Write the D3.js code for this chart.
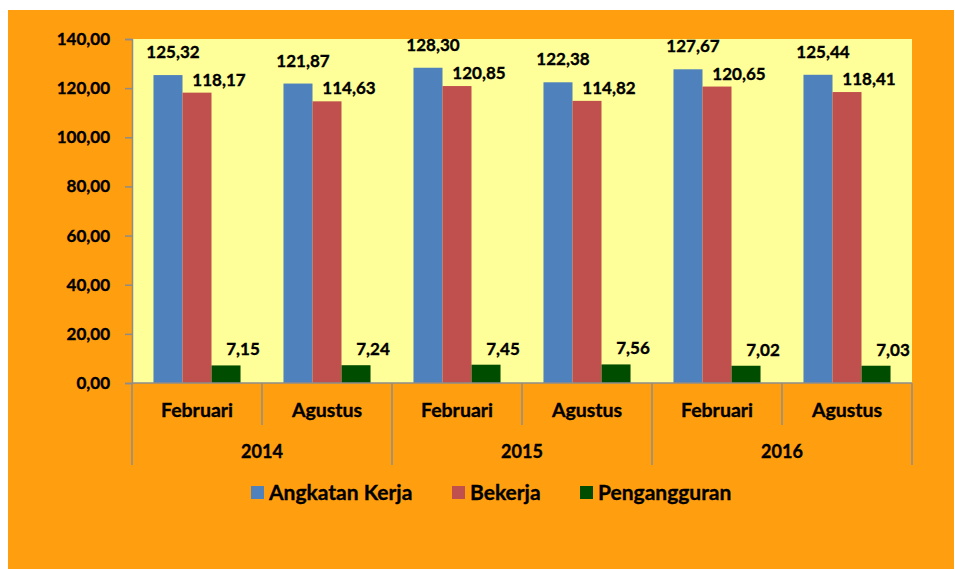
<!DOCTYPE html>
<html>
<head>
<meta charset="utf-8">
<script src="https://cdn.jsdelivr.net/npm/d3@7"></script>
<style>
body { margin: 0; background: #fff; }
text { font-family: Lato, "Open Sans", sans-serif; font-weight: bold; fill: #000; stroke: #000; stroke-width: 0.35px; }
</style>
</head>
<body>
<script>
var g_width = 955
var g_height = 569

// data
var years = ["2014", "2015", "2016"]
var months = ["Februari", "Agustus"]
var seriesNames = ["Angkatan Kerja", "Bekerja", "Pengangguran"]
var angkatanKerja = [125.32, 121.87, 128.30, 122.38, 127.67, 125.44]
var bekerja = [118.17, 114.63, 120.85, 114.82, 120.65, 118.41]
var pengangguran = [7.15, 7.24, 7.45, 7.56, 7.02, 7.03]
var yTicks = [0, 20, 40, 60, 80, 100, 120, 140]

var colors = ["#4f81bd", "#c0504d", "#004d00"]
var allSeries = [angkatanKerja, bekerja, pengangguran]
// label nudges, roughly how excel placed them
var labelDx = [5, 22, 17]
var labelDy = [-17, -7, -10]

var categories = []
years.forEach(function(y) {
    months.forEach(function(m) { categories.push(y + "|" + m) })
})

var plot = { left: 132, right: 912, top: 39, bottom: 383 }

var svg = d3.select("body").append("svg")
    .attr("width", g_width)
    .attr("height", g_height)

svg.append("rect")
    .attr("x", 8).attr("y", 10)
    .attr("width", 946).attr("height", 559)
    .attr("fill", "#ff9e0f")

svg.append("rect")
    .attr("x", plot.left).attr("y", plot.top)
    .attr("width", plot.right - plot.left).attr("height", plot.bottom - plot.top)
    .attr("fill", "#ffff99")

var xScale = d3.scaleBand().domain(categories).range([plot.left, plot.right]).paddingInner(0).paddingOuter(0)
var inner = d3.scaleBand().domain([0, 1, 2]).range([0, xScale.bandwidth()]).paddingOuter(0.74).paddingInner(0)
var yScale = d3.scaleLinear().domain([0, 140]).range([plot.bottom, plot.top])

// y axis
var yAxis = d3.axisLeft(yScale)
    .tickValues(yTicks)
    .tickSize(7)
    .tickFormat(function(d) { return d3.format(".2f")(d).replace(".", ",") })

var yAxisPlot = svg.append("g")
    .attr("transform", "translate(" + plot.left + ",0)")
    .call(yAxis)
yAxisPlot.select(".domain").attr("stroke", "#8c8c8c").attr("stroke-width", 1.5)
yAxisPlot.selectAll(".tick line").attr("stroke", "#8c8c8c").attr("stroke-width", 1.5)
yAxisPlot.selectAll(".tick text")
    .attr("x", -22)
    .style("font-size", "17px")
    .style("font-family", "Lato, sans-serif")
    .style("font-weight", "bold")
    .attr("fill", "#000")

// bars
allSeries.forEach(function(values, s) {
    svg.append("g").selectAll("rect")
        .data(values)
        .enter().append("rect")
        .attr("x", function(d, i) { return xScale(categories[i]) + inner(s) })
        .attr("y", function(d) { return yScale(d) })
        .attr("width", inner.bandwidth())
        .attr("height", function(d) { return yScale(0) - yScale(d) })
        .attr("fill", colors[s])

    svg.append("g").selectAll("text")
        .data(values)
        .enter().append("text")
        .attr("x", function(d, i) { return xScale(categories[i]) + inner(s) + inner.bandwidth() / 2 + labelDx[s] })
        .attr("y", function(d) { return yScale(d) + labelDy[s] })
        .attr("text-anchor", "middle")
        .style("font-size", "17px")
        .text(function(d) { return d3.format(".2f")(d).replace(".", ",") })
})

// x axis line
svg.append("line")
    .attr("x1", plot.left).attr("x2", plot.right)
    .attr("y1", plot.bottom).attr("y2", plot.bottom)
    .attr("stroke", "#8c8c8c").attr("stroke-width", 1.5)

// month separators and labels
categories.forEach(function(c, i) {
    var x0 = xScale(c)
    var isYearEdge = i % 2 == 0
    svg.append("line")
        .attr("x1", x0).attr("x2", x0)
        .attr("y1", plot.bottom).attr("y2", isYearEdge ? 465 : 425)
        .attr("stroke", "#8c8c8c").attr("stroke-width", 1.5)
    svg.append("text")
        .attr("x", x0 + xScale.bandwidth() / 2)
        .attr("y", 417)
        .attr("text-anchor", "middle")
        .style("font-size", "19.5px")
        .text(c.split("|")[1])
})
svg.append("line")
    .attr("x1", plot.right).attr("x2", plot.right)
    .attr("y1", plot.bottom).attr("y2", 465)
    .attr("stroke", "#8c8c8c").attr("stroke-width", 1.5)

// year labels
years.forEach(function(y) {
    var x0 = xScale(y + "|" + months[0])
    svg.append("text")
        .attr("x", x0 + xScale.bandwidth())
        .attr("y", 458)
        .attr("text-anchor", "middle")
        .style("font-size", "18px")
        .text(y)
})

// legend
var legendX = [251, 452, 580]
var legend = svg.append("g")
seriesNames.forEach(function(name, s) {
    legend.append("rect")
        .attr("x", legendX[s]).attr("y", 486)
        .attr("width", 13).attr("height", 13)
        .attr("fill", colors[s])
    legend.append("text")
        .attr("x", legendX[s] + 18).attr("y", 500)
        .style("font-size", "21px")
        .text(name)
})
</script>
</body>
</html>
